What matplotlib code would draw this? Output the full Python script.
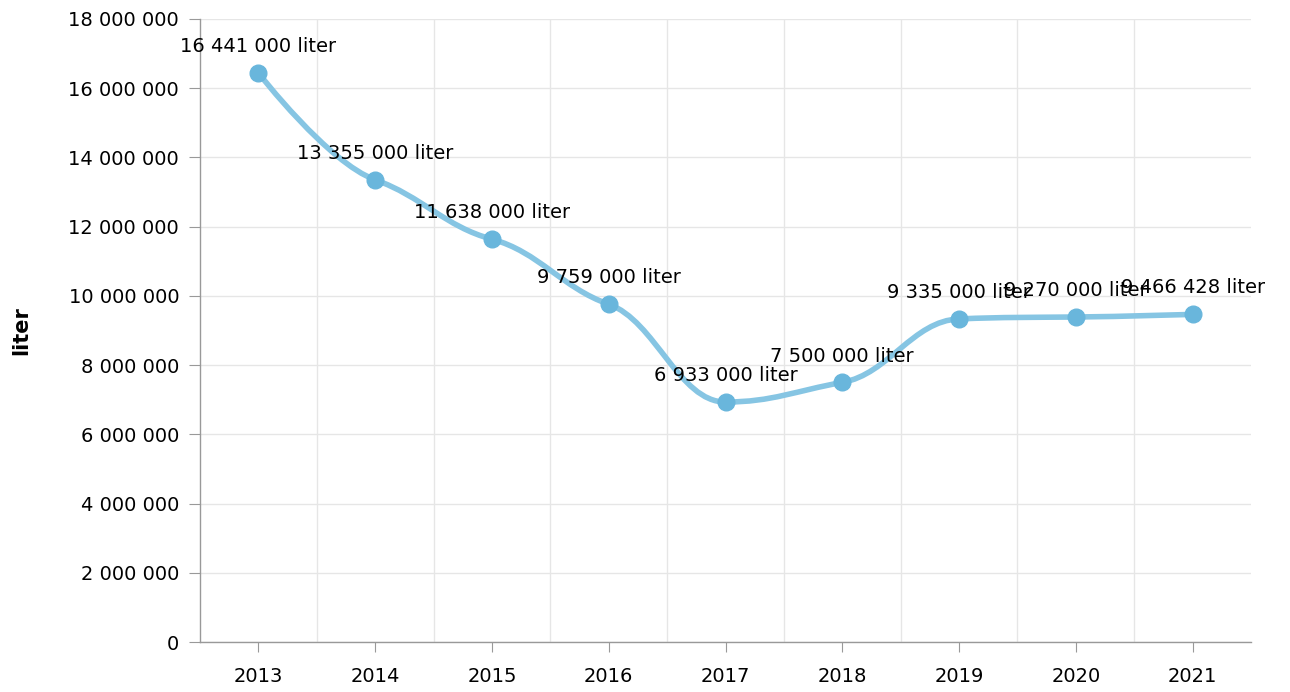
import matplotlib
matplotlib.use("Agg")
import matplotlib.pyplot as plt
from matplotlib.path import Path
from matplotlib.patches import PathPatch
from matplotlib.ticker import MultipleLocator, FuncFormatter
import numpy as np

years = ["2013", "2014", "2015", "2016", "2017", "2018", "2019", "2020", "2021"]
# plotted positions
liters = [16441000, 13355000, 11638000, 9759000, 6933000, 7500000, 9335000, 9390000, 9466428]
# data label texts as printed on the chart
label_text = ["16 441 000 liter", "13 355 000 liter", "11 638 000 liter", "9 759 000 liter",
              "6 933 000 liter", "7 500 000 liter", "9 335 000 liter", "9 270 000 liter",
              "9 466 428 liter"]

line_col = "#86c5e3"
dot_col = "#69b6dc"


def spaced(v):
    return f"{int(round(v)):,}".replace(",", " ")


def spline_path(xs, ys, reach=0.4, k=0.5):
    # smooth bezier through the points, tangent = k * catmull-rom slope,
    # control points clamped so the curve does not overshoot neighbours
    n = len(xs)
    left = [None] * n
    right = [None] * n
    for i in range(1, n - 1):
        s = k * (ys[i + 1] - ys[i - 1]) / (xs[i + 1] - xs[i - 1])
        lx = xs[i] - reach * (xs[i] - xs[i - 1])
        rx = xs[i] + reach * (xs[i + 1] - xs[i])
        ly = ys[i] - s * (xs[i] - lx)
        ry = ys[i] + s * (rx - xs[i])
        py = ys[i]
        lo, hi = min(ys[i - 1], py), max(ys[i - 1], py)
        if ly > hi or ly < lo:
            ly = min(max(ly, lo), hi)
            ry = 2 * py - ly
        lo, hi = min(ys[i + 1], py), max(ys[i + 1], py)
        if ry > hi or ry < lo:
            ry = min(max(ry, lo), hi)
            ly = 2 * py - ry
        left[i] = (lx, ly)
        right[i] = (rx, ry)
    verts = [(xs[0], ys[0])]
    codes = [Path.MOVETO]
    for i in range(1, n):
        c1 = right[i - 1] if right[i - 1] is not None else (xs[i - 1], ys[i - 1])
        c2 = left[i] if left[i] is not None else (xs[i], ys[i])
        verts += [c1, c2, (xs[i], ys[i])]
        codes += [Path.CURVE4] * 3
    return Path(verts, codes)


fig = plt.figure(figsize=(12.9, 6.92), dpi=100)
ax = fig.add_axes([200 / 1290, 1 - 642 / 692, 1051 / 1290, 623 / 692])

x = np.arange(len(years))
ax.add_patch(PathPatch(spline_path(list(x), liters), fill=False, edgecolor=line_col,
                       lw=4, capstyle="round", joinstyle="round", zorder=3))
ax.plot(x, liters, "o", color=dot_col, ms=12, zorder=4)

for xi, v, t in zip(x, liters, label_text):
    ax.annotate(t, (xi, v), xytext=(0, 19), textcoords="offset points",
                ha="center", va="center", fontsize=14, color="#000000", zorder=5)

ax.set_xlim(-0.5, len(years) - 0.5)
ax.set_ylim(0, 18000000)
ax.yaxis.set_major_locator(MultipleLocator(2000000))
ax.yaxis.set_major_formatter(FuncFormatter(lambda v, p: spaced(v)))
ax.set_xticks(x)
ax.set_xticklabels(years)
ax.set_xticks(np.arange(0.5, len(years) - 1, 1), minor=True)

ax.grid(axis="y", color="#e6e6e6", lw=1)
ax.grid(axis="x", which="minor", color="#e6e6e6", lw=1)
ax.set_axisbelow(True)

for s in ["top", "right"]:
    ax.spines[s].set_visible(False)
for s in ["left", "bottom"]:
    ax.spines[s].set_color("#999999")
    ax.spines[s].set_linewidth(1)

ax.tick_params(axis="both", which="major", labelsize=14, colors="#999999", labelcolor="#000000")
ax.tick_params(axis="y", length=8, pad=7)
ax.tick_params(axis="x", length=7, pad=11)
ax.tick_params(axis="x", which="minor", length=0)

ax.set_ylabel("liter", fontsize=15, fontweight="bold")
ax.yaxis.set_label_coords(-169 / 1051, 0.5)

fig.savefig("out.png", dpi=100)
